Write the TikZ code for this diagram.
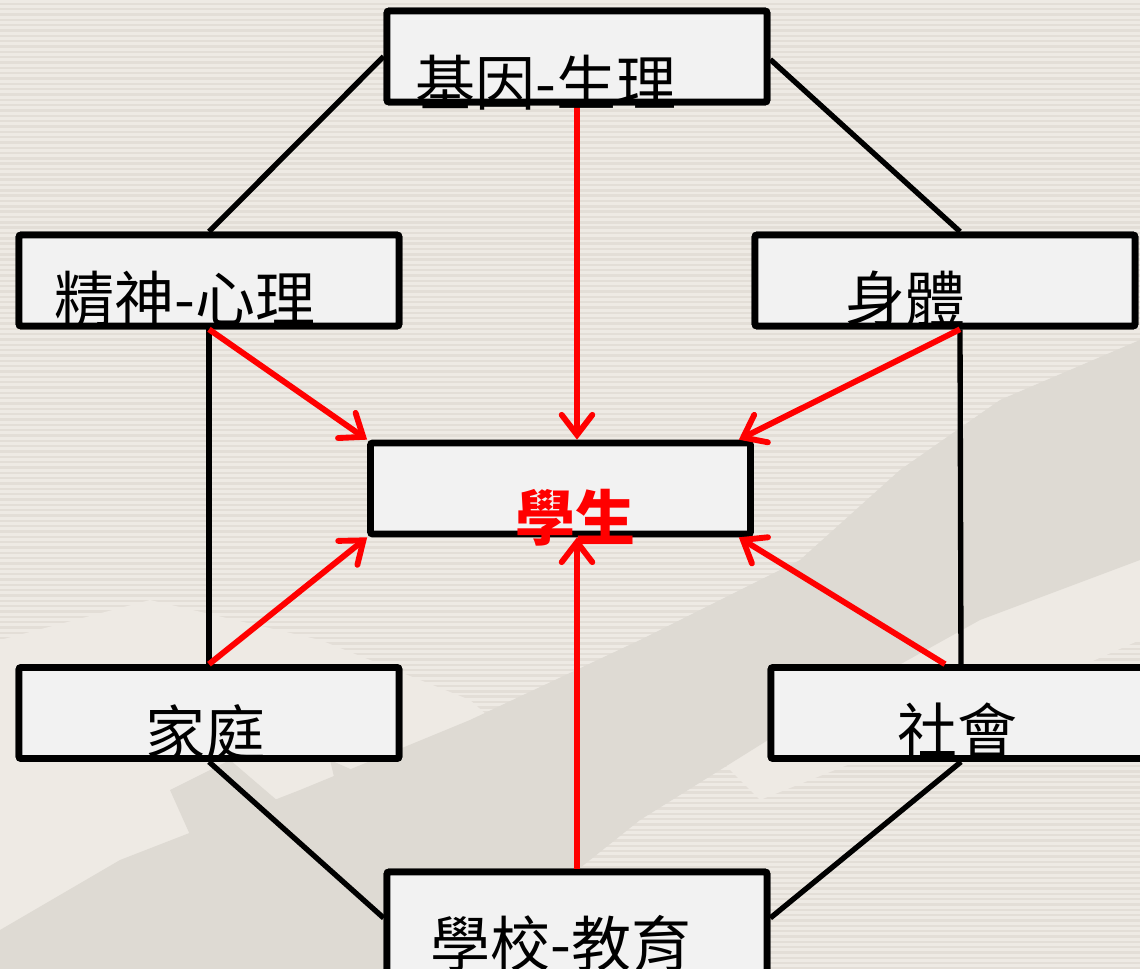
\documentclass[tikz,border=0pt]{standalone}
\usepackage{fontspec}
\newfontfamily\cjk{Noto Sans CJK TC}
\usetikzlibrary{arrows.meta,calc}
\definecolor{bgbase}{HTML}{EEEAE4}
\definecolor{bgstripe}{HTML}{E3DED7}
\definecolor{brushdark}{HTML}{DEDAD3}
\definecolor{boxfill}{HTML}{F2F2F2}
\definecolor{redline}{HTML}{FF0000}
\tikzset{
  boxnode/.style={draw=black, fill=boxfill, line width=5pt, rounded corners=1.5pt,
    minimum width=380*0.75pt, minimum height=91*0.75pt, inner sep=0pt},
  linkline/.style={draw=black, line width=4pt},
  influence/.style={draw=redline, line width=4.4pt,
    -{Straight Barb[length=15pt,width=23pt,line cap=round]}},
  labeltext/.style={anchor=base west, inner sep=0pt, font=\cjk\fontsize{45}{50}\selectfont},
}
\begin{document}
\begin{tikzpicture}[x=0.75pt,y=-0.75pt]
\useasboundingbox (0,0) rectangle (1140,969);
% background
\fill[bgbase] (0,0) rectangle (1140,969);
\foreach \k in {0,...,182} {
  \fill[bgstripe] (0,{\k*5.33+2.6}) rectangle (1140,{\k*5.33+5.0});
}
% faint brush shapes
\fill[bgbase] (0,640) -- (150,600) -- (320,640) -- (470,700) -- (560,780) -- (520,969) -- (0,969) -- cycle;
\fill[bgbase] (620,660) -- (800,560) -- (980,470) -- (1140,420) -- (1140,640) -- (960,720) -- (760,800) -- cycle;
\fill[brushdark] (0,930) -- (120,860) -- (300,790) -- (470,720) -- (640,640) -- (800,560)
  -- (900,470) -- (1000,400) -- (1140,340) -- (1140,560) -- (980,620) -- (800,720)
  -- (640,820) -- (540,900) -- (500,969) -- (0,969) -- cycle;
\fill[brushdark] (170,790) -- (230,760) -- (300,820) -- (330,969) -- (250,969) -- cycle;
\fill[brushdark] (330,760) -- (420,800) -- (500,900) -- (460,969) -- (380,969) -- cycle;

% boxes (placed first so connectors can refer to them)
\node[boxnode] (gene)   at (577,56.5) {};
\node[boxnode] (mind)   at (209,280.5) {};
\node[boxnode] (body)   at (945,280.5) {};
\node[boxnode] (stu)    at (560.5,488.5) {};
\node[boxnode] (fam)    at (209,713) {};
\node[boxnode] (soc)    at (961,713) {};
\node[boxnode, minimum height=104*0.75pt] (school) at (577,924) {};

% hook points
\coordinate (bodyS) at ($(body.south)+(15,0)$);
\coordinate (bodyN) at ($(body.north)+(15,0)$);
\coordinate (socA)  at ($(soc.north)+(-16,0)$);
\coordinate (stuNE) at ($(stu.north east)+(-15,0)$);
\coordinate (stuSE) at ($(stu.south east)+(-15,0)$);
\coordinate (geneR) at ($(gene.east)+(0,3)$);
\coordinate (schL)  at ($(school.west)+(0,-6)$);
\coordinate (schR)  at ($(school.east)+(0,-6)$);

% black connectors
\draw[linkline] (gene.west) -- (mind.north);
\draw[linkline] (geneR) -- (bodyN);
\draw[linkline] (mind.south) -- (fam.north);
\draw[linkline] (bodyS) -- (soc.north);
\draw[linkline] (fam.south) -- (schL);
\draw[linkline] (soc.south) -- (schR);

% redraw boxes over connector ends
\node[boxnode] at (gene) {};
\node[boxnode] at (mind) {};
\node[boxnode] at (body) {};
\node[boxnode] at (fam) {};
\node[boxnode] at (soc) {};
\node[boxnode, minimum height=104*0.75pt] at (school) {};

% red influence arrows
\draw[influence] (gene.south) -- (gene.south |- stu.north);
\draw[influence] (mind.south) -- (stu.north west);
\draw[influence] (bodyS) -- (stuNE);
\draw[influence] (fam.north) -- (stu.south west);
\draw[influence] (school.north) -- (school.north |- stu.south);
\draw[influence] (socA) -- (stuSE);

% labels
\node[labeltext] (tgene)   at (415,106) {基因-生理};
\node[labeltext] (tmind)   at (54,322)  {精神-心理};
\node[labeltext] (tbody)   at (845,322) {身體};
\node[labeltext, text=redline, font=\cjk\bfseries\fontsize{45}{50}\selectfont] (tstu) at (515,541) {學生};
\node[labeltext] (tfam)    at (145,756) {家庭};
\node[labeltext] (tsoc)    at (897,754) {社會};
\node[labeltext] (tschool) at (430,966) {學校-教育};
\end{tikzpicture}
\end{document}
